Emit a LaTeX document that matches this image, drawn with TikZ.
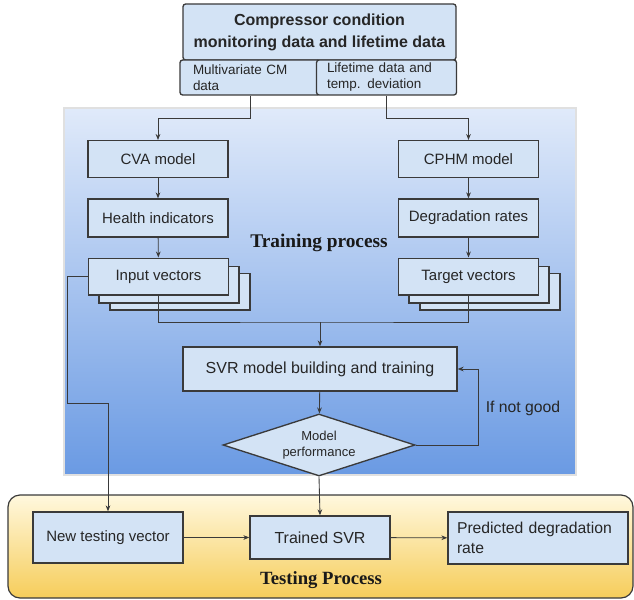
\documentclass[tikz,border=0pt]{standalone}
\usepackage{fontspec}
\setmainfont{Liberation Sans}
\newfontfamily\procfont{Liberation Serif}
\usetikzlibrary{positioning,arrows.meta,shapes.geometric,calc}
\definecolor{boxblue}{HTML}{D3E3F5}
\definecolor{edge}{HTML}{3A3A3A}
\definecolor{trtop}{HTML}{E0EAFA}
\definecolor{trbot}{HTML}{6A9AE3}
\definecolor{tetop}{HTML}{FFF8DE}
\definecolor{tebot}{HTML}{F6CD5A}
\definecolor{ink}{HTML}{262626}

\begin{document}
\begin{tikzpicture}[x=0.75pt, y=-0.75pt,
  blk/.style={draw=edge, line width=1pt, fill=boxblue, text=ink, minimum width=105pt,
              minimum height=27.5pt, inner sep=1pt, font=\fontsize{11.25}{13}\selectfont},
  sub/.style={blk, rounded corners=2pt, align=left, inner xsep=7.5pt, minimum height=26.25pt,
              font=\fontsize{10.1}{12}\selectfont},
  decide/.style={diamond, draw=edge, line width=1pt, fill=boxblue, text=ink, aspect=3,
                 minimum width=144pt, minimum height=46.5pt, inner sep=0pt, align=center,
                 font=\fontsize{9.75}{12.5}\selectfont},
  phase/.style={font=\procfont\bfseries\fontsize{14.5}{16}\selectfont, text=black!90},
  arr/.style={-{Stealth[length=4.5pt,width=3.5pt]}, line width=0.65pt, edge},
  ln/.style={line width=0.65pt, edge},
]
\useasboundingbox (0,0) rectangle (634,599);

% training and testing panels
\shade[top color=trtop, bottom color=trbot] (64,108) rectangle (576,475);
\draw[black!12, line width=0.8pt] (64,108) rectangle (576,475);
\shade[top color=tetop, bottom color=tebot, rounded corners=9pt] (8,495) rectangle (633,598);
\draw[edge, line width=0.9pt, rounded corners=9pt] (8,495) rectangle (633,598);

% data source
\node[blk, rounded corners=2pt, minimum width=204.75pt, minimum height=42pt, align=center,
      font=\bfseries\fontsize{12}{16.5}\selectfont] (src) at (319.5,32)
      {Compressor condition\\monitoring data and lifetime data};
\node[sub, text width=85.5pt] (cm) at (250,77.5) {Multivariate CM\\data};
\node[sub, text width=89.25pt] (life) at (386.5,77.5) {Lifetime data and\\temp. deviation};

% left branch
\node[blk] (cva) at (158,159) {CVA model};
\node[blk, minimum height=28.5pt] (hi) at (158,218) {Health indicators};
\node[blk] (inv3) at (180,291.5) {};
\node[blk] (inv2) at (169,284.5) {};
\node[blk] (inv) at (158.5,276.5) {Input vectors};

% right branch
\node[blk] (cphm) at (468.5,159) {CPHM model};
\node[blk, minimum height=28.5pt] (dr) at (468.5,218) {Degradation rates};
\node[blk] (tv3) at (490,291.5) {};
\node[blk] (tv2) at (479,284.5) {};
\node[blk] (tv) at (468.5,276.5) {Target vectors};

\node[phase] (train) at (319,243) {Training process};

% model building
\node[blk, minimum width=205.5pt, minimum height=33pt, font=\fontsize{12}{14}\selectfont] (svr) at (320,369)
      {SVR model building and training};
\node[decide] (perf) at (319,445) {Model\\performance};
\node[font=\fontsize{11.8}{14}\selectfont, text=ink] (bad) at (523,408) {If not good};

% testing
\node[blk, minimum width=112.5pt, minimum height=38.25pt] (ntv) at (108,537.5) {New testing vector};
\node[blk, minimum height=32.25pt, font=\fontsize{12}{14}\selectfont] (tsvr) at (320,537.5) {Trained SVR};
\node[blk, minimum width=135pt, minimum height=39pt, align=left, inner xsep=6.75pt, text width=121.5pt,
      font=\fontsize{11.8}{15}\selectfont] (pdr) at (538,538) {Predicted degradation\\rate};
\node[phase, font=\procfont\bfseries\fontsize{14}{16}\selectfont] (test) at (321,580) {Testing Process};

% connectors
\coordinate (j1) at (158,118);
\coordinate (j2) at (468.5,118);
\coordinate (mid) at (320,322);
\coordinate (fb) at (478,369);
\coordinate (k1) at (67,403);
\coordinate (k2) at (108,403);

\draw[arr] (cm.south) |- (j1) -- (cva.north);
\draw[arr] (life.south) |- (j2) -- (cphm.north);
\draw[arr] (cva) -- (hi);
\draw[arr] (hi) -- (inv);
\draw[arr] (cphm) -- (dr);
\draw[arr] (dr) -- (tv);
\draw[ln] (inv.south) |- (mid) -| (tv.south);
\draw[arr] (mid) -- (svr.north);
\draw[arr] (svr) -- (perf);
\draw[arr] (perf.east) -| (fb) -- (svr.east);
\draw[arr] (perf.south) -- (tsvr.north);
\draw[arr] (inv.west) -| (k1) -- (k2) -- (ntv.north);
\draw[arr] (ntv) -- (tsvr);
\draw[arr] (tsvr) -- (pdr);
\end{tikzpicture}
\end{document}
